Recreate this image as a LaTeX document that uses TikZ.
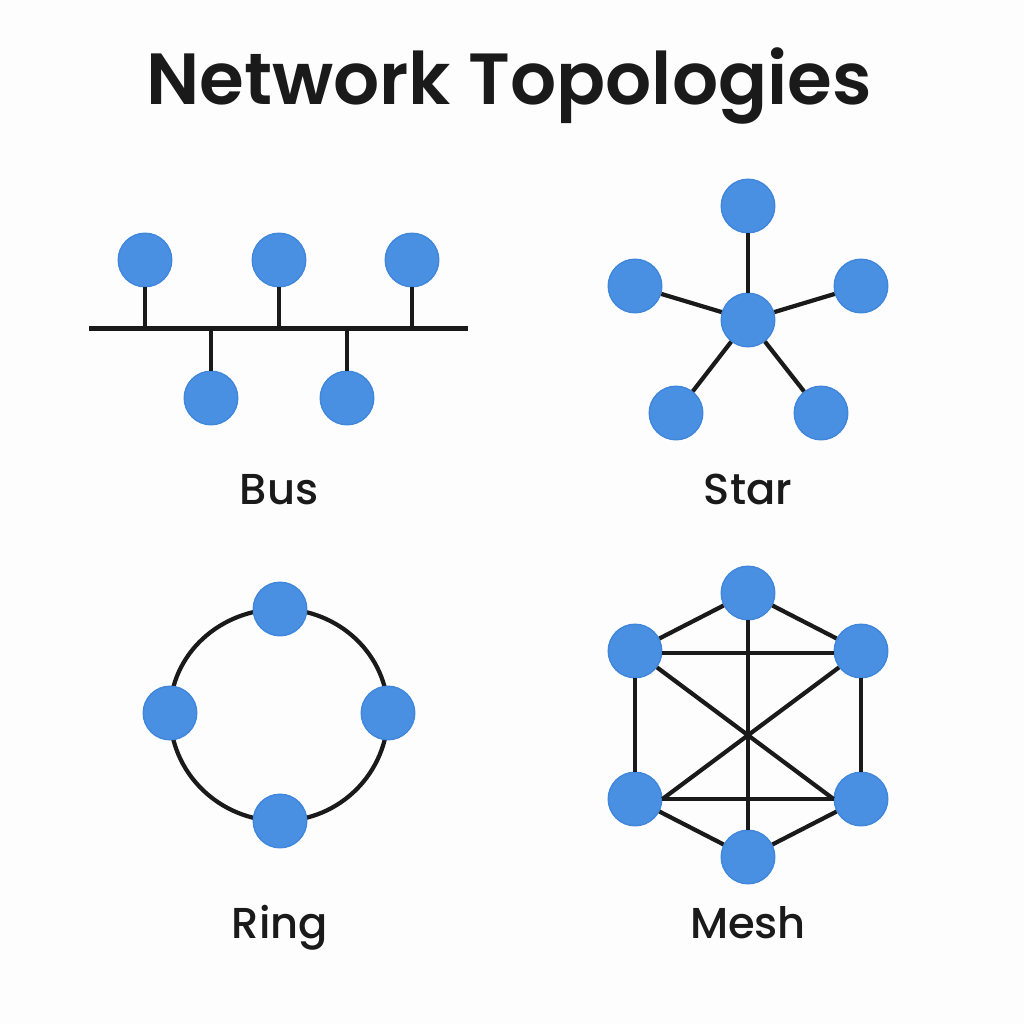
\documentclass[tikz,border=0pt]{standalone}
\usepackage{fontspec}
\newfontfamily\titlefont{Poppins SemiBold}
\newfontfamily\capfont{Poppins Medium}
\usetikzlibrary{backgrounds}
\definecolor{nodeblue}{HTML}{4A90E2}
\definecolor{nodeedge}{HTML}{3F86DC}
\definecolor{inkblack}{HTML}{1A1A1A}
\definecolor{paper}{HTML}{FDFDFD}
\tikzset{
  host/.style={circle, fill=nodeblue, draw=nodeedge, line width=0.4pt, minimum size=0.535cm, inner sep=0pt},
  link/.style={draw=inkblack, line width=1.2pt},
  caption/.style={text=inkblack, font=\capfont\fontsize{12.3}{15}\selectfont, inner sep=0pt, anchor=base}
}
\begin{document}
\begin{tikzpicture}[x=0.01cm, y=-0.01cm]
\node(title) [text=inkblack, font=\titlefont\fontsize{20.6}{26}\selectfont, inner sep=0pt, anchor=base] at (509,104.5) {Network Topologies};
% bus
\node(B1) [host] at (145,260) {};
\node(B2) [host] at (279,260) {};
\node(B3) [host] at (412,260) {};
\node(B4) [host] at (211,398) {};
\node(B5) [host] at (347,398) {};
\coordinate(BL) at (89,328.5);
\coordinate(BR) at (468,328.5);
\draw[link](BL) -- (BR);
\draw[link](B1) -- (B1 |- BL);
\draw[link](B2) -- (B2 |- BL);
\draw[link](B3) -- (B3 |- BL);
\draw[link](B4) -- (B4 |- BL);
\draw[link](B5) -- (B5 |- BL);
\node(buslabel) [caption] at (279,504.5) {Bus};
% star
\node(S0) [host] at (748,320) {};
\node(S1) [host] at (748,206) {};
\node(S2) [host] at (635,286) {};
\node(S3) [host] at (861,286) {};
\node(S4) [host] at (676,413) {};
\node(S5) [host] at (821,413) {};
\foreach \i in {1,...,5}
  \draw[link](S0) -- (S\i);
\node(starlabel) [caption] at (748,504.5) {Star};
% ring
\node(R1) [host] at (280,609) {};
\node(R2) [host] at (170,713) {};
\node(R3) [host] at (280,821) {};
\node(R4) [host] at (388,713) {};
\begin{scope}[on background layer]
\fill[paper] (0,0) rectangle (1024,1024);
\draw[link](R1.center) to[out=180, in=90] (R2.center);
\draw[link](R2.center) to[out=-90, in=180] (R3.center);
\draw[link](R3.center) to[out=0, in=-90] (R4.center);
\draw[link](R4.center) to[out=90, in=0] (R1.center);
\end{scope}
\node(ringlabel) [caption] at (280,938.5) {Ring};
% mesh
\node(M1) [host] at (748,593) {};
\node(M2) [host] at (635,651) {};
\node(M3) [host] at (861,651) {};
\node(M4) [host] at (635,799) {};
\node(M5) [host] at (861,799) {};
\node(M6) [host] at (748,857) {};
\foreach \a/\b in {M1/M2, M1/M3, M1/M6, M2/M4, M3/M5, M4/M5, M4/M6, M5/M6}
  \draw[link](\a) -- (\b);
\draw[link, transform canvas={yshift=-0.6pt}](M2) -- (M3);
\draw[link](M2) -- (M5.west);
\draw[link](M3) -- (M4.east);
\node(meshlabel) [caption] at (748,938.5) {Mesh};
\end{tikzpicture}
\end{document}
